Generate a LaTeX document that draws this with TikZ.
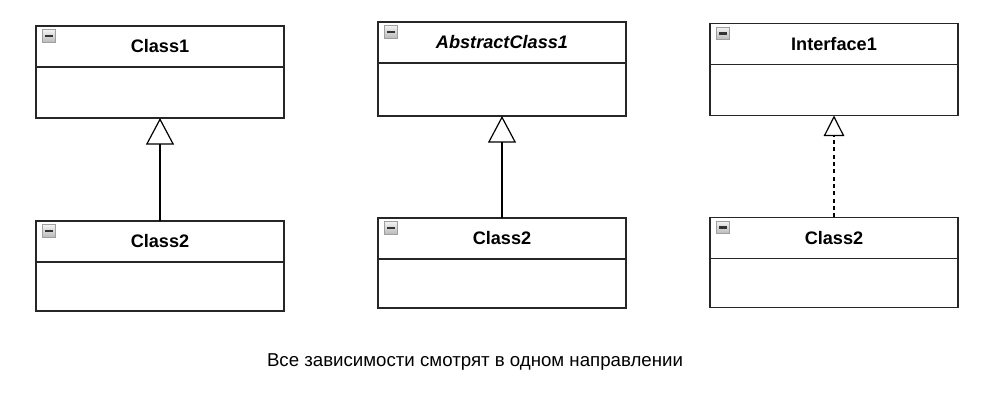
\documentclass[tikz,border=0pt]{standalone}
\usepackage{fontspec}
\setmainfont{Liberation Sans}
\usetikzlibrary{positioning,arrows.meta}

\tikzset{
  classhead/.style={draw=black!85, line width=1.1pt, minimum width=186pt, minimum height=30.75pt,
    inner sep=0pt, outer sep=0pt, font=\fontsize{13.6}{15}\selectfont\bfseries},
  classbody/.style={draw=black!85, line width=1.1pt, minimum width=186pt, minimum height=38.25pt,
    inner sep=0pt, outer sep=0pt},
  minusicon/.style={draw=gray!75, top color=gray!10, bottom color=gray!55, minimum size=9.5pt,
    inner sep=0pt, line width=0.6pt, anchor=north west,
    path picture={\fill[black!80] ([xshift=1.8pt,yshift=-0.9pt]path picture bounding box.west)
      rectangle ([xshift=-1.8pt,yshift=0.9pt]path picture bounding box.east);}},
  inherit/.style={-{Triangle[open,length=20pt,width=21pt]}, line width=0.9pt},
  realize/.style={-{Triangle[open,length=15.5pt,width=15.5pt]}, line width=0.9pt,
    dash pattern=on 3pt off 2.5pt},
}

\begin{document}
\begin{tikzpicture}[x=0.75pt,y=-0.75pt]
    \useasboundingbox (0,0) rectangle (992,416);

    % top row
    \node[classhead] (h1) at (160,46.5) {Class1};
    \node[classbody, below=0pt of h1] (b1) {};
    \node[classhead] (h2) at (502,42.5) {\itshape AbstractClass1};
    \node[classbody, below=0pt of h2, minimum height=39.75pt] (b2) {};
    \node[classhead] (h3) at (834,44) {Interface1};
    \node[classbody, below=0pt of h3] (b3) {};

    % bottom row
    \node[classhead, below=77.25pt of b1] (h4) {Class2};
    \node[classbody, below=0pt of h4, minimum height=36.75pt] (b4) {};
    \node[classhead, below=76.5pt of b2] (h5) {Class2};
    \node[classbody, below=0pt of h5, minimum height=36.75pt] (b5) {};
    \node[classhead, below=76.5pt of b3] (h6) {Class2};
    \node[classbody, below=0pt of h6, minimum height=36.75pt] (b6) {};

    % collapse icons
    \foreach \h in {h1,h2,h3,h4,h5,h6}
        \node[minusicon] (\h icon) at ([xshift=4.5pt,yshift=-2.5pt]\h.north west) {};

    \draw[inherit] (h4.north) -- (b1.south);
    \draw[inherit] (h5.north) -- (b2.south);
    \draw[realize] (h6.north) -- (b3.south);

    \node[font=\fontsize{14}{16}\selectfont] (note) at (475,362)
        {Все зависимости смотрят в одном направлении};
\end{tikzpicture}
\end{document}
